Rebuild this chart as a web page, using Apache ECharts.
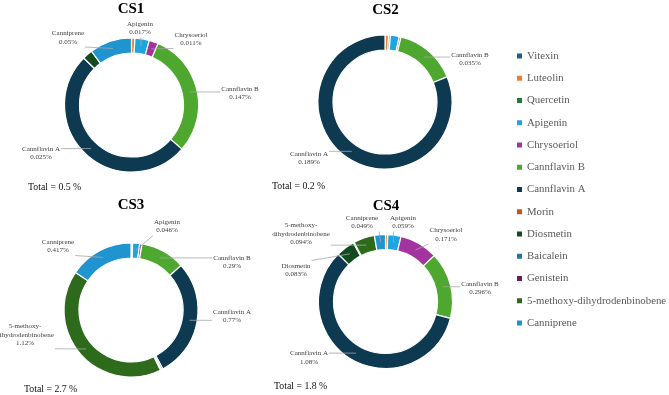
<!DOCTYPE html>
<html><head><meta charset="utf-8">
<script src="https://cdn.jsdelivr.net/npm/echarts@6/dist/echarts.min.js"></script>
<style>html,body{margin:0;padding:0;background:#fff}#c{width:669px;height:395px}</style>
</head><body><div id="c"></div>
<script>
// ---- data ----
const compounds = ['Vitexin','Luteolin','Quercetin','Apigenin','Chrysoeriol','Cannflavin B','Cannflavin A','Morin','Diosmetin','Baicalein','Genistein','5-methoxy-dihydrodenbinobene','Canniprene'];
const labelNames = ['Vitexin','Luteolin','Quercetin','Apigenin','Chrysoeriol','Cannflavin B','Cannflavin A','Morin','Diosmetin','Baicalein','Genistein','5-methoxy-\ndihydrodenbinobene','Canniprene'];
const panelTitles = ['CS1','CS2','CS3','CS4'];
const totals = ['Total = 0.5 %','Total = 0.2 %','Total = 2.7 %','Total = 1.8 %'];

const cs1Values = [0, 0.004, 0, 0.017, 0.011, 0.147, 0.25, 0, 0.012, 0, 0, 0, 0.05];
const cs2Values = [0, 0.002, 0.001, 0.005, 0.001, 0.035, 0.189, 0, 0, 0, 0, 0, 0];
const cs3Values = [0, 0.01, 0, 0.046, 0.015, 0.29, 0.77, 0, 0.01, 0, 0.008, 1.12, 0.417];
const cs4Values = [0, 0.01, 0, 0.059, 0.171, 0.296, 1.08, 0, 0.083, 0.004, 0, 0.094, 0.049];

const cs1Labels = [null, null, null, '0.017%', '0.011%', '0.147%', '0.025%', null, null, null, null, null, '0.05%'];
const cs2Labels = [null, null, null, null, null, '0.035%', '0.189%', null, null, null, null, null, null];
const cs3Labels = [null, null, null, '0.046%', null, '0.29%', '0.77%', null, null, null, null, '1.12%', '0.417%'];
const cs4Labels = [null, null, null, '0.059%', '0.171%', '0.296%', '1.08%', null, '0.083%', null, null, '0.094%', '0.049%'];

// ---- styles / layout ----
const colors = ['#1d5f8a','#ed7d31','#237a32','#1ea5e0','#a3339f','#4ea72e','#0d3a51','#c0571c','#144a1f','#1f77a0','#6a1b5a','#2e6a1c','#1f94cf'];
const centers = [[131.5,105],[385,102],[131,310],[385.5,301.5]];
const R_IN = 52, R_OUT = 67;
const titlePos = [[131,9],[385.5,10],[131,205],[386,206]];
const totalPos = [[28,187],[272,186],[24,389],[274,386]];
// label centre positions (text only), keyed by compound index
const labelPos = [
  {3:[140,28], 4:[191,39], 5:[240,93], 6:[41,153], 12:[68,37.5]},
  {5:[470,59], 6:[309,158]},
  {3:[167,226], 5:[232,262], 6:[232,316], 11:[25,335], 12:[58,246]},
  {12:[362,222], 3:[403,222], 4:[446,234.5], 5:[480,288], 6:[309,357.5], 8:[296,270], 11:[301,234]}
];

const allValues = [cs1Values, cs2Values, cs3Values, cs4Values];
const allLabels = [cs1Labels, cs2Labels, cs3Labels, cs4Labels];
const FONT = '"Liberation Serif","Times New Roman",serif';
const labelBoxes = [{}, {}, {}, {}];

function midPoint(s, idx) {
  const vals = allValues[s];
  const sum = vals.reduce((a,b)=>a+b,0);
  let cum = 0;
  for (let i = 0; i < idx; i++) cum += vals[i];
  const a = (cum + vals[idx]/2) / sum * 2 * Math.PI;
  const r = (R_IN + R_OUT) / 2;
  return [centers[s][0] + r*Math.sin(a), centers[s][1] - r*Math.cos(a)];
}
function clamp(v, lo, hi){ return Math.max(lo, Math.min(hi, v)); }

const series = allValues.map((vals, s) => ({
  type: 'pie',
  center: centers[s],
  radius: [R_IN, R_OUT],
  startAngle: 90,
  clockwise: true,
  avoidLabelOverlap: false,
  animation: false,
  label: {
    show: true, position: 'outside',
    fontFamily: FONT, fontSize: 7, lineHeight: 8.5, color: '#404040',
    formatter: p => labelNames[p.dataIndex] + '\n' + allLabels[s][p.dataIndex]
  },
  labelLine: { show: false },
  labelLayout: function (params) {
    const pos = labelPos[s][params.dataIndex];
    if (!pos) return {};
    const w = params.labelRect.width, h = params.labelRect.height;
    labelBoxes[s][params.dataIndex] = { x0: pos[0] - w/2, y0: pos[1] - h/2, w: w, h: h };
    return { x: pos[0], y: pos[1], align: 'center', verticalAlign: 'middle' };
  },
  data: compounds.map((n, i) => ({
    name: n, value: vals[i],
    itemStyle: { color: colors[i], borderColor: '#fff', borderWidth: vals[i] > 0 ? 1.2 : 0 },
    label: { show: !!allLabels[s][i] }
  }))
}));

const graphics = [];
panelTitles.forEach((t, i) => graphics.push({
  type: 'text', x: titlePos[i][0], y: titlePos[i][1],
  style: { text: t, font: 'bold 15px ' + FONT, fill: '#000', align: 'center', verticalAlign: 'middle', textAlign: 'center', textVerticalAlign: 'middle' }
}));
totals.forEach((t, i) => graphics.push({
  type: 'text', x: totalPos[i][0], y: totalPos[i][1],
  style: { text: t, font: '9.8px ' + FONT, fill: '#111', align: 'left', verticalAlign: 'middle', textAlign: 'left', textVerticalAlign: 'middle' }
}));

const chart = echarts.init(document.getElementById('c'), null, { renderer: 'canvas' });
chart.setOption({
  backgroundColor: '#fff',
  animation: false,
  legend: {
    orient: 'vertical', left: 517, top: 50, padding: 0,
    itemWidth: 5, itemHeight: 5, itemGap: 10.25, icon: 'rect',
    selectedMode: false,
    itemStyle: { borderWidth: 0 },
    textStyle: { fontFamily: FONT, fontSize: 10.8, color: '#595959', lineHeight: 12 },
    data: compounds
  },
  graphic: graphics,
  series: series
});

// leader lines: from the label box to the middle of its ring segment
const lines = [];
labelBoxes.forEach((boxes, s) => {
  Object.keys(boxes).forEach(k => {
    const b = boxes[k];
    const t = midPoint(s, +k);
    const sx = clamp(t[0], b.x0 - 1, b.x0 + b.w + 1);
    const sy = clamp(t[1], b.y0 - 1, b.y0 + b.h + 1);
    lines.push({ type: 'polyline', shape: { points: [[sx, sy], t] }, style: { stroke: '#a6a6a6', lineWidth: 0.8, fill: null }, z: 10 });
  });
});
chart.setOption({ graphic: graphics.concat(lines) });
</script></body></html>
